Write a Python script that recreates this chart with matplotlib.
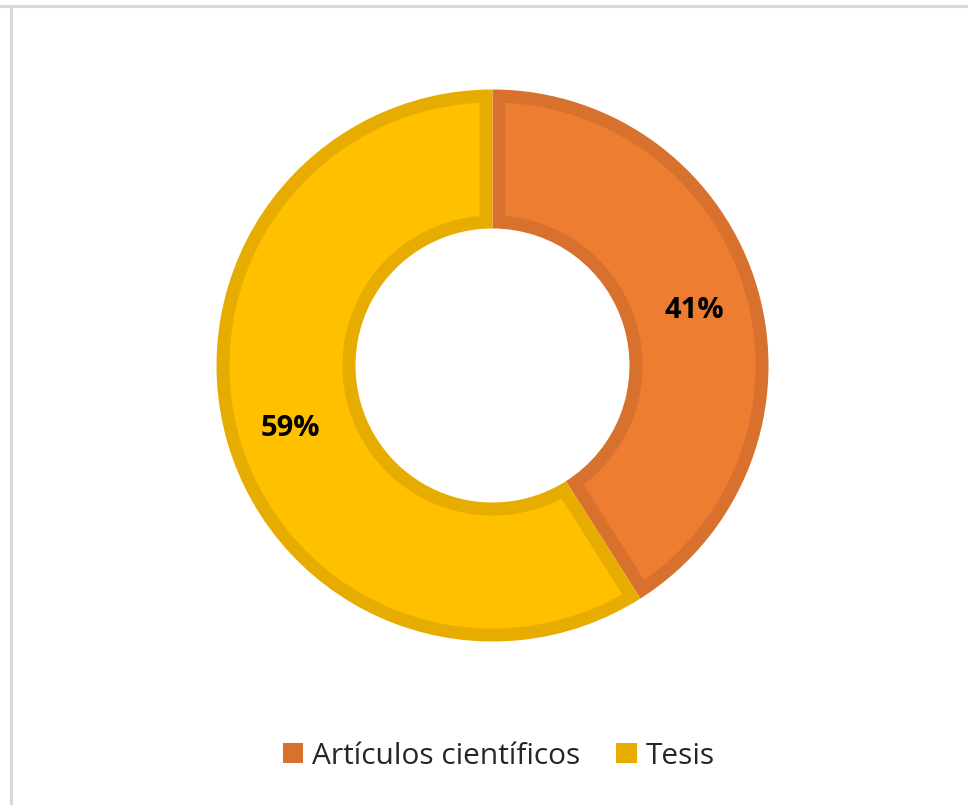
import matplotlib
matplotlib.use("Agg")
import numpy as np
import matplotlib.pyplot as plt
from matplotlib.patches import Patch, Polygon
from matplotlib.lines import Line2D

categories = ["Artículos científicos", "Tesis"]
values = [41, 59]
labels = ["41%", "59%"]
fill_colors = ["#ED7D31", "#FFC000"]
edge_colors = ["#D7712D", "#E7AC00"]

W, H = 968, 805
fig = plt.figure(figsize=(W / 100, H / 100), dpi=100)
ax = fig.add_axes([0, 0, 1, 1])

cx, cy = 492.5, H - 365.5
R = 276
ring_w = 139
d = 13  # visible border thickness

# outer wedges: border colour
wedges, _ = ax.pie(values, colors=edge_colors, startangle=90, counterclock=False,
                   center=(cx, cy), radius=R, frame=True,
                   wedgeprops=dict(width=ring_w, linewidth=0))

# inset wedges: fill colour
r_in = R - ring_w
for w, fc in zip(wedges, fill_colors):
    t1, t2 = w.theta1, w.theta2
    ro, ri = R - d, r_in + d
    ao1 = t1 + np.degrees(np.arcsin(d / ro))
    ao2 = t2 - np.degrees(np.arcsin(d / ro))
    ai1 = t1 + np.degrees(np.arcsin(d / ri))
    ai2 = t2 - np.degrees(np.arcsin(d / ri))
    a_out = np.radians(np.linspace(ao1, ao2, 300))
    a_in = np.radians(np.linspace(ai2, ai1, 300))
    xs = np.concatenate([cx + ro * np.cos(a_out), cx + ri * np.cos(a_in)])
    ys = np.concatenate([cy + ro * np.sin(a_out), cy + ri * np.sin(a_in)])
    ax.add_patch(Polygon(np.column_stack([xs, ys]), closed=True, facecolor=fc,
                         edgecolor="none", linewidth=0))

ax.set_xlim(0, W)
ax.set_ylim(0, H)
ax.set_aspect("equal")
ax.axis("off")

start = 90.0
total = sum(values)
r_lab = R - ring_w / 2 + 4
for v, lab in zip(values, labels):
    ang = start - v / total * 360 / 2
    start -= v / total * 360
    x = cx + r_lab * np.cos(np.radians(ang))
    y = cy + r_lab * np.sin(np.radians(ang)) - 4
    ax.text(x, y, lab, ha="center", va="center", fontsize=21, fontweight="bold",
            family="Open Sans", color="#000000")

# frame lines (top and left)
fig.add_artist(Line2D([0, 1], [1 - 6 / H, 1 - 6 / H], transform=fig.transFigure,
                      color="#D9D9D9", lw=2.2))
fig.add_artist(Line2D([10.5 / W, 10.5 / W], [0, 1 - 6 / H], transform=fig.transFigure,
                      color="#D9D9D9", lw=2.2))

handles = [Patch(facecolor=c, edgecolor="none") for c in edge_colors]
leg = fig.legend(handles, categories, loc="center", bbox_to_anchor=(499 / W, 1 - 756 / H),
                 ncol=2, frameon=False, handlelength=0.68, handleheight=0.68,
                 handletextpad=0.3, columnspacing=1.2, prop={"family": "Open Sans", "size": 21.5})
for t in leg.get_texts():
    t.set_color("#262626")

fig.savefig("out.png", dpi=100, facecolor="white")
